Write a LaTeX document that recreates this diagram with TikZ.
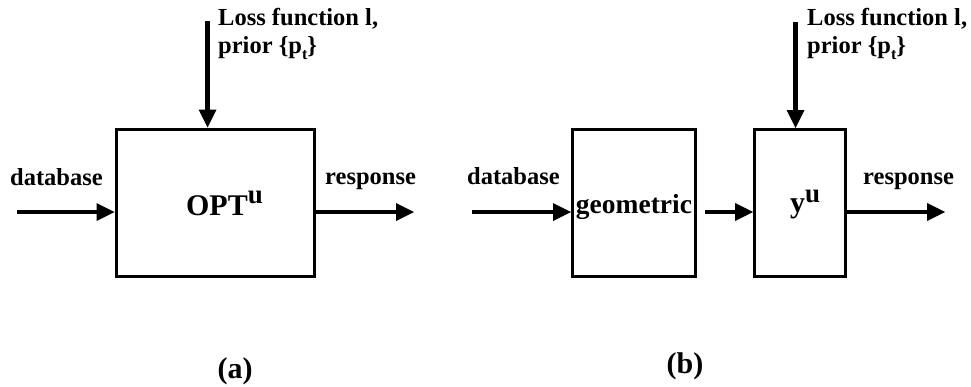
\documentclass[tikz,border=0pt]{standalone}
\usepackage{fontspec}
\setmainfont{Liberation Serif}
\begin{document}
\begin{tikzpicture}[x=1pt,y=-1pt]
	\tikzstyle{every node}+=[inner sep=0pt]
	\tikzstyle{blk}=[draw, black, line width=3pt]
	\tikzstyle{lbl}=[font=\fontsize{24.5}{28.3}\selectfont\bfseries, anchor=base west]
	\tikzstyle{big}=[font=\fontsize{30}{34}\selectfont\bfseries, anchor=base]
	\tikzstyle{wire}=[black, line width=4.5pt, shorten >=8pt]
	\useasboundingbox (0,0) rectangle (971,386);
	% (a)
	\node[blk, minimum width=198.5pt, minimum height=147.5pt] (opt) at (215.25,202.75) {};
	\node[big] (optT) at (224.5,215) {OPT\raisebox{12pt}{\fontsize{27}{30}\selectfont u}};
	\node[lbl] (dbA) at (10,185) {database};
	\node[lbl] (rsA) at (325,184) {response};
	\node[lbl, align=left, anchor=north west] (lossTA) at (218,8) {Loss function l,\\prior \{p\raisebox{-6pt}{\fontsize{16}{16}\selectfont t}\}};
	\coordinate (inA) at (17,212);
	\coordinate (outA) at (414,212);
	\coordinate (lossA) at (207.5,21);
	\draw [wire] (inA) -- (inA -| opt.west);
	\fill [black] (inA -| opt.west) -- ++(-18,-9) -- ++(0,18) -- cycle;
	\draw [wire] (outA -| opt.east) -- (outA);
	\fill [black] (outA) -- ++(-18,-9) -- ++(0,18) -- cycle;
	\draw [wire] (lossA) -- (lossA |- opt.north);
	\fill [black] (lossA |- opt.north) -- ++(-9,-18) -- ++(18,0) -- cycle;
	\node[big] (capA) at (235,378) {(a)};
	% (b)
	\node[blk, minimum width=122.5pt, minimum height=146.5pt] (geo) at (633.75,202.75) {};
	\node[blk, minimum width=90.5pt, minimum height=146.5pt] (yu) at (799.75,202.75) {};
	\node[big, font=\fontsize{27.5}{32}\selectfont\bfseries] (geoT) at (634,213) {geometric};
	\node[big] (yuT) at (805,212) {y\raisebox{10pt}{\fontsize{27}{30}\selectfont u}};
	\node[lbl] (dbB) at (467,184) {database};
	\node[lbl] (rsB) at (863,184) {response};
	\node[lbl, align=left, anchor=north west] (lossTB) at (807,8) {Loss function l,\\prior \{p\raisebox{-6pt}{\fontsize{16}{16}\selectfont t}\}};
	\coordinate (inB) at (472,212);
	\coordinate (midB) at (705,212);
	\coordinate (outB) at (945,212);
	\coordinate (lossB) at (795.5,22);
	\draw [wire] (inB) -- (inB -| geo.west);
	\fill [black] (inB -| geo.west) -- ++(-18,-9) -- ++(0,18) -- cycle;
	\draw [wire] (midB) -- (midB -| yu.west);
	\fill [black] (midB -| yu.west) -- ++(-18,-9) -- ++(0,18) -- cycle;
	\draw [wire] (outB -| yu.east) -- (outB);
	\fill [black] (outB) -- ++(-18,-9) -- ++(0,18) -- cycle;
	\draw [wire] (lossB) -- (lossB |- yu.north);
	\fill [black] (lossB |- yu.north) -- ++(-9,-18) -- ++(18,0) -- cycle;
	\node[big] (capB) at (685,373) {(b)};
\end{tikzpicture}
\end{document}
